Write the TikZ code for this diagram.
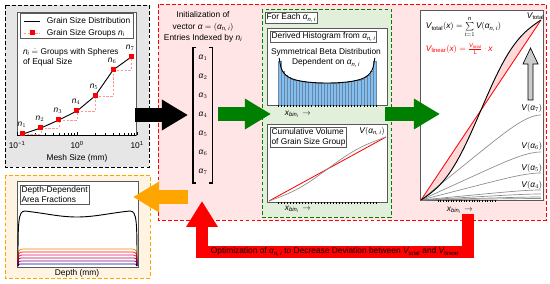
\documentclass[tikz,border=0pt]{standalone}
\usepackage{amsmath,amssymb}
\usepackage{fontspec}
\setmainfont{Liberation Sans}
\usepackage{tikz}
\usetikzlibrary{calc,arrows.meta}
\definecolor{darkgreen}{rgb}{0.0,0.5,0.0}
\definecolor{panelgray}{RGB}{230,230,230}
\definecolor{panelpink}{RGB}{255,229,229}
\definecolor{panelgreen}{RGB}{226,239,218}
\definecolor{panelorange}{RGB}{255,243,226}
\definecolor{arrorange}{RGB}{255,165,0}
\definecolor{barblue}{RGB}{130,190,240}
\definecolor{bardark}{RGB}{105,135,165}
\newcommand{\sv}[1]{\text{\itshape #1}}
\newcommand{\alni}{\ensuremath{\sv{α}_{\sv{n, i}}}}
\newcommand{\xbin}{\ensuremath{\sv{x}_{\sv{bin}_{\sv{i}}}\,\rightarrow}}

\begin{document}
\begin{tikzpicture}[x=0.42mm,y=-0.42mm,
panel/.style={dash pattern=on 1.6mm off 0.9mm,line width=\panelline},
plotbox/.style={draw=black!65,fill=white,line width=\boxline},
labelbox/.style={draw=black!65,fill=white,line width=\boxline,anchor=north west,align=left,inner sep=1.5pt},
stair/.style={red!40,dash pattern=on 1mm off 0.6mm,line width=0.6pt},
grp/.style={fill=red,inner sep=0pt,minimum size=2.1mm},
bar/.style={fill=barblue,draw=bardark,line width=0.25pt},
graycurve/.style={black!45,line width=0.8pt},
bigarrow/.style={line width=5.5mm,-{Triangle[length=11mm,width=12.2mm]}},
fbarrow/.style={red,line width=5mm,line join=miter,-{Triangle[length=10.9mm,width=12.6mm]}}]

\def\panelline{1.1pt};
\def\boxline{0.8pt};
\def\curveline{1.1pt};

\useasboundingbox (0,0) rectangle (550,284);

\draw [panel,black,fill=panelgray] (5,5) rectangle (149,167);
\draw [plotbox] (17,12) rectangle (136,135);
\draw [line width=\boxline] (17,135) -- (136,135);

\foreach \d in {-1,0}
{
\foreach \m in {2,...,9}
{
\draw [line width=0.4pt] ({17+60*(\d+1+log10(\m))},135) -- ++(0,-1.5);
}
}
\foreach \e/\t in {-1/−1,0/0,1/1}
{
\draw [line width=0.4pt] ({17+60*(\e+1)},135) -- ++(0,-3);
\draw ({17+60*(\e+1)},145) node (mesh\e) {10$^{\text{\t}}$};
}
\draw (77,158) node (meshsize) {Mesh Size (mm)};

\foreach \i/\y in {1/134,2/128,3/120,4/111,5/96,6/70,7/57}
{
\draw coordinate (N\i) at ({22.8+18.06*(\i-1)},\y);
}

\foreach \i in {2,...,7}
{
\pgfmathtruncatemacro\j{\i-1};
\draw [stair] (N\j) -| (N\i);
}
\foreach \i in {1,...,6}
{
\pgfmathtruncatemacro\j{\i+1};
\draw [line width=\curveline] (N\i) -- (N\j);
}
\foreach \i in {1,...,7}
{
\draw (N\i) node [grp] (sq\i) {};
\draw ($(N\i)+(-1,-9)$) node (lab\i) {$\sv{n}_{\i}$};
}

\draw [plotbox] (20,13) rectangle (133,38);
\draw [line width=\curveline] (24,21) -- (40,21);
\draw (44,21) node [anchor=west] (leg1) {Grain Size Distribution};
\draw [stair] (24,33) -- (40,33);
\draw (32,33) node [grp] (legsq) {};
\draw (44,33) node [anchor=west] (leg2) {Grain Size Groups $\sv{n}_{\sv{i}}$};
\draw (22,57) node [anchor=west,align=left,inner sep=1pt] (eqsize) {$\sv{n}_{\sv{i}} \doteq$ Groups with Spheres\\of Equal Size};

\draw [panel,red,fill=panelpink] (158,4) rectangle (546,220);

\draw (203,27) node [align=center] (init) {Initialization of\\[1.5pt]vector $\boldsymbol{\sv{α}} = (\alni)$\\[1.5pt]Entries Indexed by $\sv{n}_{\sv{i}}$};
\draw [line width=1.2pt] (196,48) -| (193,183) -- (196,183);
\draw [line width=1.2pt] (209,48) -| (212,183) -- (209,183);
\foreach \x in {1,...,7}
{
\draw (203,{58+19*(\x-1)}) node (al\x) {$\sv{α}_{\x}$};
}

\draw [panel,darkgreen,fill=panelgreen] (262,9) rectangle (391,217);
\draw (265,12) node [labelbox] (foreach) {For Each \alni};

\draw [plotbox] (267,28) rectangle (387,105);
\draw (270,31) node [labelbox] (derived) {Derived Histogram from \alni};
\foreach \x in {0,...,31}
{
\pgfmathsetmacro\h{22*(4*(\x+0.5)/32*(1-(\x+0.5)/32))^(-0.25)};
\draw [bar] ({278+3.06*\x},105) rectangle ({278+3.06*(\x+1)},{105-\h});
}
\draw [line width=\curveline] plot [domain=0.012:0.988,samples=60,smooth] ({278+98*\x},{105-22*(4*\x*(1-\x))^(-0.25)});
\draw (326,58) node [align=center] (beta) {Symmetrical Beta Distribution\\Dependent on \alni};
\foreach \x in {0,...,32}
{
\draw [line width=0.4pt] ({278+3.06*\x},105) -- ++(0,2);
}
\draw (282,114) node [anchor=west] (xbinA) {\xbin};

\draw [plotbox] (267,124) rectangle (387,202);
\draw [red,line width=1pt] (269,201) -- (386,137);
\draw [graycurve] plot [domain=0:1,samples=40] ({269+117*\x},{201-64*(\x-0.35*sin(360*\x)/(2*pi))});
\draw (270,127) node [labelbox] (cumul) {Cumulative Volume\\of Grain Size Group};
\draw (372,131) node (vgroup) {$\sv{V}(\alni)$};
\foreach \x in {0,...,32}
{
\draw [line width=0.4pt] ({278+3.06*\x},202) -- ++(0,2);
}
\draw (282,209) node [anchor=west] (xbinB) {\xbin};

\draw [plotbox] (420,10) rectangle (543,200);
\fill [red!15] plot [domain=0:1,samples=60] ({421+120*\x},{200-180*(\x-0.55*sin(360*\x)/(2*pi))}) -- cycle;
\foreach \v in {85,48,27,10,6,3,1.5}
{
\draw [graycurve] plot [domain=0:1,samples=40] ({421+120*\x},{200-\v*(8/7*\x-1/7*\x^8)});
}
\draw [red,line width=1pt] (421,200) -- (541,20);
\draw [line width=\curveline] plot [domain=0:1,samples=60] ({421+120*\x},{200-180*(\x-0.55*sin(360*\x)/(2*pi))});
\draw (423,27) node [anchor=west] (vsum) {$\sv{V}_{\text{total}}(\sv{x}) = \sum\limits_{\sv{i}=1}^{\sv{n}} \sv{V}(\alni)$};
\draw (423,49) node [anchor=west,text=red] (vlin) {$\sv{V}_{\text{linear}}(\sv{x}) = \frac{\sv{V}_{\text{total}}}{\text{L}}\cdot \sv{x}$};
\draw (545,16) node [anchor=east,inner sep=1pt] (vtot) {$\sv{V}_{\text{total}}$};
\foreach \a/\y in {7/108,6/146,5/168,4/185}
{
\draw (545,\y) node [anchor=east] (va\a) {$\sv{V}(\sv{α}_{\a})$};
}
\draw [fill=black!20,line width=\boxline] (528,100) -- (528,64) -- (523,64) -- (530.5,48) -- (538,64) -- (533,64) -- (533,100) -- cycle;
\foreach \x in {0,...,22}
{
\draw [line width=0.4pt] ({438+2.6*\x},200) -- ++(0,2);
}
\draw (444,210) node [anchor=west] (xbinC) {\xbin};

\draw [panel,arrorange,fill=panelorange] (5,175) rectangle (150,278);
\draw [plotbox] (17,181) rectangle (138,267);
\foreach \c/\y in {orange/249,red!80!orange/252,magenta!80!red/255,purple/258,violet/261,blue!60!black/264}
{
\draw [\c,line width=0.9pt] (18,266) .. controls (18,\y) .. (24,\y) -- (131,\y) .. controls (137,\y) .. (137,266);
}
\draw [line width=\curveline] (18,266) .. controls (18,222) and (18,211) .. (25,211) .. controls (50,214) and (60,217) .. (77,217) .. controls (95,217) and (110,213) .. (130,211) .. controls (137,211) and (137,222) .. (137,266);
\draw (20,185) node [labelbox] (depthdep) {Depth-Dependent\\Area Fractions};
\draw (77,273) node (depth) {Depth (mm)};

\draw coordinate (blkA) at (135,115);
\draw coordinate (blkB) at (188,115);
\draw [bigarrow,black] (blkA) -- (blkB);

\draw coordinate (grA) at (218,114);
\draw coordinate (grB) at (271,114);
\draw [bigarrow,darkgreen] (grA) -- (grB);

\draw coordinate (grC) at (385,114);
\draw coordinate (grD) at (440,114);
\draw [bigarrow,darkgreen] (grC) -- (grD);

\draw coordinate (orA) at (188,197);
\draw coordinate (orB) at (133,197);
\draw [bigarrow,arrorange] (orA) -- (orB);

\draw coordinate (fbA) at (468,214);
\draw coordinate (fbturn) at (335,252);
\draw coordinate (fbB) at (202,201);
\draw [fbarrow] (fbA) |- (fbturn) -| (fbB);
\draw (fbturn) node (optim) {Optimization of \alni{} to Decrease Deviation between $\sv{V}_{\text{total}}$ and $\sv{V}_{\text{linear}}$};

\end{tikzpicture}
\end{document}
